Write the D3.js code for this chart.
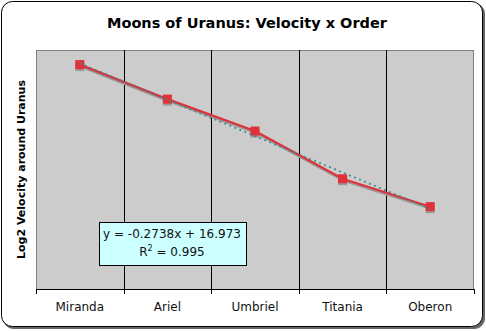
<!DOCTYPE html>
<html>
<head>
<meta charset="utf-8">
<script src="https://cdn.jsdelivr.net/npm/d3@7"></script>
<style>
  body { margin: 0; background: #fff; }
  svg { display: block; font-family: "DejaVu Sans", Verdana, sans-serif; }
</style>
</head>
<body>
<div id="chart"></div>
<script>
// moons in order of distance from Uranus
const moons = ["Miranda", "Ariel", "Umbriel", "Titania", "Oberon"];
// log2 of orbital velocity
const log2Velocity = [16.69, 16.43, 16.19, 15.83, 15.62];
// linear trendline shown in the label
const trendSlope = -0.2738;
const trendIntercept = 16.973;
const trendR2 = 0.995;
const yDomain = [15, 16.8];

const width = 486, height = 331;
const plot = {left: 36, top: 50, right: 474, bottom: 289};

const svg = d3.select("#chart").append("svg")
    .attr("width", width)
    .attr("height", height);

// outer frame with shadow
svg.append("rect")
    .attr("x", 3).attr("y", 3)
    .attr("width", 482).attr("height", 326)
    .attr("rx", 11)
    .attr("fill", "#666");
svg.append("rect")
    .attr("x", 1.5).attr("y", 1.5)
    .attr("width", 481).attr("height", 325)
    .attr("rx", 11)
    .attr("fill", "#fff")
    .attr("stroke", "#000");

// title
svg.append("text")
    .attr("x", 247).attr("y", 28)
    .attr("text-anchor", "middle")
    .style("font-size", "14.5px")
    .style("font-weight", "bold")
    .text("Moons of Uranus: Velocity x Order");

var xScale = d3.scaleBand()
    .domain(moons)
    .range([plot.left, plot.right]);

var yScale = d3.scaleLinear()
    .domain(yDomain)
    .range([plot.bottom, plot.top]);

// plot area
svg.append("rect")
    .attr("x", plot.left + 0.5).attr("y", plot.top + 0.5)
    .attr("width", plot.right - plot.left - 1)
    .attr("height", plot.bottom - plot.top)
    .attr("fill", "#cccccc")
    .attr("stroke", "#808080");

// vertical gridlines at category boundaries
svg.selectAll(".grid")
    .data(moons.slice(1))
    .join("line")
    .attr("class", "grid")
    .attr("x1", d => Math.round(xScale(d)) + 0.5)
    .attr("x2", d => Math.round(xScale(d)) + 0.5)
    .attr("y1", plot.top)
    .attr("y2", plot.bottom)
    .attr("stroke", "#000");

// x axis line and boundary ticks
svg.append("line")
    .attr("x1", plot.left).attr("x2", plot.right + 1)
    .attr("y1", plot.bottom + 0.5).attr("y2", plot.bottom + 0.5)
    .attr("stroke", "#000");
svg.selectAll(".btick")
    .data(moons.concat(["end"]))
    .join("line")
    .attr("class", "btick")
    .attr("x1", (d, i) => Math.round(i < moons.length ? xScale(d) : plot.right) + 0.5)
    .attr("x2", (d, i) => Math.round(i < moons.length ? xScale(d) : plot.right) + 0.5)
    .attr("y1", plot.bottom)
    .attr("y2", plot.bottom + 5)
    .attr("stroke", "#000");

// category labels via axis
var xAxis = svg.append("g")
    .attr("transform", "translate(0," + (plot.bottom + 1) + ")")
    .call(d3.axisBottom(xScale).tickSize(0).tickPadding(12));
xAxis.select(".domain").remove();
xAxis.selectAll("text")
    .style("font-family", "DejaVu Sans, Verdana, sans-serif")
    .style("font-size", "12px")
    .attr("fill", "#111");

// y label
svg.append("text")
    .attr("transform", "translate(25," + ((plot.top + plot.bottom) / 2) + ") rotate(-90)")
    .attr("text-anchor", "middle")
    .style("font-size", "11px")
    .style("font-weight", "bold")
    .text("Log2 Velocity around Uranus");

const cx = d => xScale(d) + xScale.bandwidth() / 2;
const series = moons.map((m, i) => ({moon: m, value: log2Velocity[i]}));

var line = d3.line()
    .x(d => cx(d.moon))
    .y(d => yScale(d.value));

// shadow of series
svg.append("path")
    .datum(series)
    .attr("d", line)
    .attr("transform", "translate(1,2)")
    .attr("fill", "none")
    .attr("stroke", "#999")
    .attr("stroke-width", 2.2);
svg.selectAll(".mshadow")
    .data(series)
    .join("rect")
    .attr("class", "mshadow")
    .attr("x", d => cx(d.moon) - 4.5)
    .attr("y", d => yScale(d.value) - 2.5)
    .attr("width", 9).attr("height", 9)
    .attr("fill", "#999");

svg.append("path")
    .datum(series)
    .attr("d", line)
    .attr("fill", "none")
    .attr("stroke", "#e0303a")
    .attr("stroke-width", 2.2);

svg.selectAll(".marker")
    .data(series)
    .join("rect")
    .attr("class", "marker")
    .attr("x", d => cx(d.moon) - 4.5)
    .attr("y", d => yScale(d.value) - 4.5)
    .attr("width", 9).attr("height", 9)
    .attr("fill", "#e0303a");

// trendline (x = 1..5)
svg.append("line")
    .attr("x1", cx(moons[0]))
    .attr("y1", yScale(trendIntercept + trendSlope * 1))
    .attr("x2", cx(moons[moons.length - 1]))
    .attr("y2", yScale(trendIntercept + trendSlope * moons.length))
    .attr("stroke", "#2f8f8f")
    .attr("stroke-width", 1.8)
    .attr("stroke-dasharray", "1.8,3.6");

// equation box
var box = svg.append("g");
box.append("rect")
    .attr("x", 99.5).attr("y", 222.5)
    .attr("width", 147).attr("height", 43)
    .attr("fill", "#ccffff")
    .attr("stroke", "#000");
box.append("text")
    .attr("x", 172).attr("y", 238)
    .attr("text-anchor", "middle")
    .style("font-size", "12px")
    .attr("fill", "#111")
    .text("y = " + trendSlope + "x + " + trendIntercept);
var r2 = box.append("text")
    .attr("x", 172).attr("y", 256)
    .attr("text-anchor", "middle")
    .style("font-size", "12px")
    .attr("fill", "#111");
r2.append("tspan").text("R");
r2.append("tspan").attr("dy", -5).style("font-size", "8px").text("2");
r2.append("tspan").attr("dy", 5).text(" = " + trendR2);
</script>
</body>
</html>
